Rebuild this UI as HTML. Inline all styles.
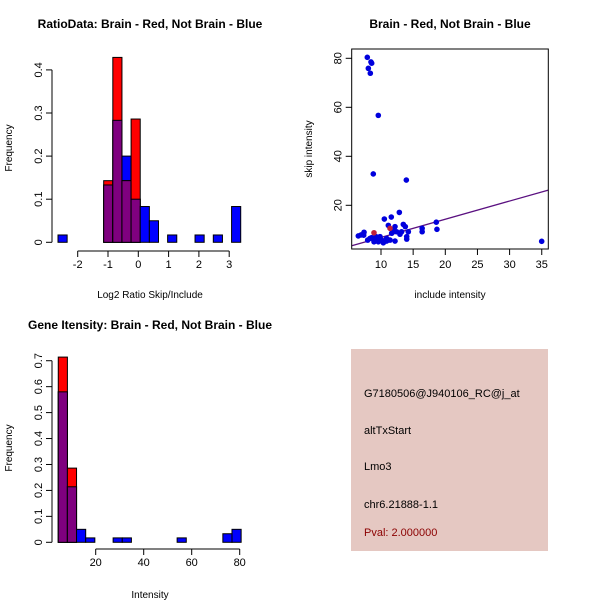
<!DOCTYPE html>
<html><head><meta charset="utf-8"><style>
body{margin:0;background:#fff}
svg{display:block;font-family:"Liberation Sans",sans-serif}
</style></head><body>
<svg id="c" width="600" height="600" xmlns="http://www.w3.org/2000/svg">
<rect x="0" y="0" width="600" height="600" fill="#fff"/>
<g id="p1"></g>
<g id="p2"></g>
<g id="p3"></g>
<g>
<rect x="351" y="349" width="197" height="202" fill="#e5c8c2"/>
<text x="364" y="397" font-size="11" fill="#000">G7180506@J940106_RC@j_at</text>
<text x="364" y="434" font-size="11" fill="#000">altTxStart</text>
<text x="364" y="470" font-size="11" fill="#000">Lmo3</text>
<text x="364" y="508" font-size="11" fill="#000">chr6.21888-1.1</text>
<text x="364" y="536" font-size="11" fill="#8b0000">Pval: 2.000000</text>
</g>
</svg>
<script>
// ---- Plot 1 data
const h1Start = -2.65, h1Width = 0.3015;
const h1Blue = [0.017,0,0,0,0,0.133,0.283,0.2,0.1,0.083,0.05,0,0.017,0,0,0.017,0,0.017,0,0.083];
const h1Red  = [0,0,0,0,0,0.143,0.429,0.143,0.286,0,0,0,0,0,0,0,0,0,0,0];
const h1XTicks = [-2,-1,0,1,2,3];
const h1YTicks = [0,0.1,0.2,0.3,0.4];
// ---- Plot 2 data
const scX = [7.87,8.03,8.44,8.55,8.34,9.58,8.80,13.94,34.99,18.6,18.7,12.85,10.52,11.6,11.14,16.4,16.4,13.47,13.78,12.18,6.47,6.89,7.36,7.31,7.93,8.29,8.55,9.22,9.84,10.1,8.91,9.58,10.36,10.88,11.4,12.18,11.66,11.91,12.43,12.95,14.0,14.25,13.2,14.0,10.88,9.32];
const scY = [80.4,75.9,78.5,78.0,73.9,56.7,32.8,30.3,5.3,13.1,10.2,17.1,14.4,15.2,11.8,10.6,9.2,12.2,11.3,11.3,7.5,7.9,9.0,7.8,5.8,6.5,6.8,7.2,7.2,5.8,5.1,5.1,4.7,5.4,5.8,5.4,8.6,9.9,9.2,8.2,7.2,9.2,9.2,6.2,6.5,5.8];
const redX = [8.91,11.4];
const redY = [8.8,10.6];
const fitLine = [-0.55,0.743]; // intercept, slope
const scXTicks = [10,15,20,25,30,35];
const scYTicks = [20,40,60,80];
// ---- Plot 3 data
const h3Start = 4.4, h3Width = 3.81;
const h3Blue = [0.58,0.214,0.05,0.017,0,0,0.017,0.017,0,0,0,0,0,0.017,0,0,0,0,0.033,0.05];
const h3Red  = [0.714,0.286,0,0,0,0,0,0,0,0,0,0,0,0,0,0,0,0,0,0];
const h3XTicks = [20,40,60,80];
const h3YTicks = [0,0.1,0.2,0.3,0.4,0.5,0.6,0.7];

const NS="http://www.w3.org/2000/svg";
function mk(parent,tag,attrs,text){const e=document.createElementNS(NS,tag);for(const k in attrs)e.setAttribute(k,attrs[k]);if(text!==undefined)e.textContent=text;parent.appendChild(e);return e;}

function hist(g,o){
  const sx=v=>o.x0+(v-o.d0)*o.kx, sy=v=>o.y0-v*o.ky;
  for(let i=0;i<o.blue.length;i++){
    const a=o.start+i*o.width,b=a+o.width,x=sx(a),w=sx(b)-x;
    const bl=o.blue[i],rd=o.red[i],mn=Math.min(bl,rd);
    if(bl>0){const r=mk(g,'rect',{x:x,y:sy(bl),width:w,height:sy(0)-sy(bl),fill:'#0000ff',stroke:'#000','stroke-width':1});
      
      }
    if(rd>0){const r=mk(g,'rect',{x:x,y:sy(rd),width:w,height:sy(0)-sy(rd),fill:'#ff0000',stroke:'#000','stroke-width':1});
      
      }
    if(mn>0){const r=mk(g,'rect',{x:x,y:sy(mn),width:w,height:sy(0)-sy(mn),fill:'#7f007f',stroke:'#000','stroke-width':1});
      
      }
  }
  const yt=o.yticks;
  mk(g,'line',{x1:o.axX,x2:o.axX,y1:sy(yt[0]),y2:sy(yt[yt.length-1]),stroke:'#000'});
  yt.forEach(v=>{mk(g,'line',{x1:o.axX-6,x2:o.axX,y1:sy(v),y2:sy(v),stroke:'#000'});
    const t=mk(g,'text',{x:0,y:0,'font-size':11,'text-anchor':'middle',transform:`translate(${o.axX-10},${sy(v)}) rotate(-90)`},String(v));
    
    });
  const xt=o.xticks;
  mk(g,'line',{x1:sx(xt[0]),x2:sx(xt[xt.length-1]),y1:o.axY,y2:o.axY,stroke:'#000'});
  xt.forEach(v=>{mk(g,'line',{x1:sx(v),x2:sx(v),y1:o.axY,y2:o.axY+6,stroke:'#000'});
    const t=mk(g,'text',{x:sx(v),y:o.axY+17,'font-size':11,'text-anchor':'middle'},String(v));
    
    });
}

// plot1
const g1=document.getElementById('p1');
hist(g1,{x0:138.3,d0:0,kx:30.3,y0:242.3,ky:431,start:h1Start,width:h1Width,blue:h1Blue,red:h1Red,xticks:h1XTicks,yticks:h1YTicks,axX:52,axY:251});
let t=mk(g1,'text',{x:150,y:28,'font-size':12,'font-weight':'bold','text-anchor':'middle'},'RatioData: Brain - Red, Not Brain - Blue');

t=mk(g1,'text',{x:150,y:298,'font-size':10,'text-anchor':'middle'},'Log2 Ratio Skip/Include');

t=mk(g1,'text',{x:0,y:0,'font-size':10,'text-anchor':'middle',transform:'translate(12,148) rotate(-90)'},'Frequency');


// plot3
const g3=document.getElementById('p3');
hist(g3,{x0:95.7,d0:20,kx:2.4,y0:542.3,ky:259.4,start:h3Start,width:h3Width,blue:h3Blue,red:h3Red,xticks:h3XTicks,yticks:h3YTicks,axX:52,axY:549});
t=mk(g3,'text',{x:150,y:329,'font-size':12,'font-weight':'bold','text-anchor':'middle'},'Gene Itensity: Brain - Red, Not Brain - Blue');

t=mk(g3,'text',{x:150,y:598,'font-size':10,'text-anchor':'middle'},'Intensity');

t=mk(g3,'text',{x:0,y:0,'font-size':10,'text-anchor':'middle',transform:'translate(12,448) rotate(-90)'},'Frequency');


// plot2
const g2=document.getElementById('p2');
const L=351.7,R=548.3,T=49,B=249;
const px=v=>381+(v-10)*6.43, py=v=>254.3-v*2.45;
const cp=mk(g2,'clipPath',{id:'cl'});mk(cp,'rect',{x:L,y:T,width:R-L,height:B-T});
const xa=(L-381)/6.43+10, xb=(R-381)/6.43+10;
const ln=mk(g2,'line',{x1:px(xa),y1:py(fitLine[0]+fitLine[1]*xa),x2:px(xb),y2:py(fitLine[0]+fitLine[1]*xb),stroke:'#5a1080','stroke-width':1.3,'clip-path':'url(#cl)'});

scX.forEach((x,i)=>{const c=mk(g2,'circle',{cx:px(x),cy:py(scY[i]),r:2.8,fill:'#0000dd'});
  
  });
redX.forEach((x,i)=>{const c=mk(g2,'circle',{cx:px(x),cy:py(redY[i]),r:2.8,fill:'#c0203a'});
  
  });
mk(g2,'rect',{x:L,y:T,width:R-L,height:B-T,fill:'none',stroke:'#000'});
scXTicks.forEach(v=>{mk(g2,'line',{x1:px(v),x2:px(v),y1:B,y2:B+6,stroke:'#000'});
  const tt=mk(g2,'text',{x:px(v),y:B+19,'font-size':11,'text-anchor':'middle'},String(v));
  
  });
scYTicks.forEach(v=>{mk(g2,'line',{x1:L-6,x2:L,y1:py(v),y2:py(v),stroke:'#000'});
  const tt=mk(g2,'text',{x:0,y:0,'font-size':11,'text-anchor':'middle',transform:`translate(${L-10},${py(v)}) rotate(-90)`},String(v));
  
  });
t=mk(g2,'text',{x:450,y:28,'font-size':12,'font-weight':'bold','text-anchor':'middle'},'Brain - Red, Not Brain - Blue');

t=mk(g2,'text',{x:450,y:298,'font-size':10,'text-anchor':'middle'},'include intensity');

t=mk(g2,'text',{x:0,y:0,'font-size':10,'text-anchor':'middle',transform:'translate(312,149) rotate(-90)'},'skip intensity');

</script>
</body></html>
